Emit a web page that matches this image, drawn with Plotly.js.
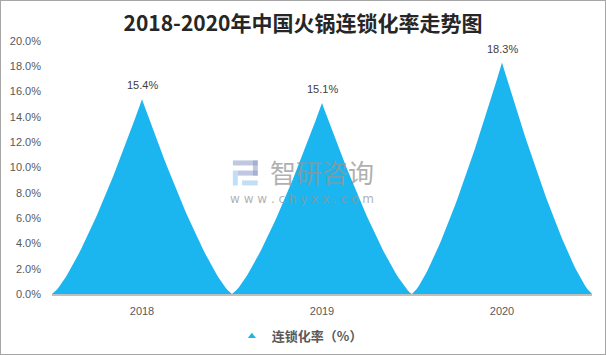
<!DOCTYPE html>
<html><head><meta charset="utf-8">
<script src="https://cdn.plot.ly/plotly-3.0.1.min.js"></script>
<style>html,body{margin:0;padding:0;background:#fff}#c{width:606px;height:355px;box-sizing:border-box;border:1px solid #A6A6A6}</style>
</head><body><div id="c"></div>
<script>
const categories = ['2018', '2019', '2020'];
const values = [15.4, 15.1, 18.3];
const seriesName = '连锁化率（%）';
const yTicks = [0, 2, 4, 6, 8, 10, 12, 14, 16, 18, 20];

const fillColor = '#1BB5EF';
const traces = [];
const N = 40, P = 1.3;
values.forEach((v, i) => {
  const xs = [], ys = [];
  for (let k = 0; k <= N; k++) { const t = k / N; xs.push(i - 0.5 + 0.5 * t); ys.push(v * Math.pow(t, P)); }
  for (let k = N - 1; k >= 0; k--) { const t = k / N; xs.push(i + 0.5 - 0.5 * t); ys.push(v * Math.pow(t, P)); }
  traces.push({x: xs, y: ys, type: 'scatter', mode: 'lines', fill: 'toself', fillcolor: fillColor,
    line: {width: 0, color: fillColor}, hoverinfo: 'skip', showlegend: false});
});
traces.push({x: [null], y: [null], type: 'scatter', mode: 'markers', name: seriesName,
  marker: {symbol: 'triangle-up', size: 7, color: fillColor}, showlegend: true});

const annotations = values.map((v, i) => ({x: i, y: v, xref: 'x', yref: 'y', text: v.toFixed(1) + '%',
  showarrow: false, yanchor: 'bottom', yshift: 6, font: {family: 'Liberation Sans, Arial', size: 11, color: '#404040'}}));
annotations.push({xref: 'paper', yref: 'paper', x: 0.598, xanchor: 'right', y: 0.409, yanchor: 'bottom', borderpad: 0,
  text: '智研咨询', showarrow: false, font: {family: 'Noto Sans CJK SC', size: 26, color: 'rgba(150,150,150,0.75)'}});
annotations.push({xref: 'paper', yref: 'paper', x: 0.598, xanchor: 'right', y: 0.409, yanchor: 'top', borderpad: 0,
  text: 'w w w . c h y x x . c o m', showarrow: false, font: {family: 'DejaVu Sans', size: 12, color: 'rgba(150,150,150,0.75)'}});

const wm = 'rgba(140,155,200,0.55)', wm2 = 'rgba(130,190,235,0.5)';
const rect = (x0, x1, y0, y1, c) => ({type: 'rect', xref: 'paper', yref: 'paper', x0, x1, y0, y1, line: {width: 0}, fillcolor: c});

const layout = {
  width: 604, height: 353,
  margin: {l: 51, r: 13, t: 40, b: 60},
  paper_bgcolor: '#fff', plot_bgcolor: '#fff',
  title: {text: '<b>2018-2020年中国火锅连锁化率走势图</b>', x: 0.5, xanchor: 'center', y: 0.935, yanchor: 'middle',
    font: {family: 'Noto Sans CJK SC', size: 21, color: '#262626'}},
  xaxis: {range: [-0.5, 2.5], tickvals: [0, 1, 2], ticktext: categories, showgrid: false, zeroline: false,
    showline: true, linecolor: '#BFBFBF', linewidth: 1.5, ticks: '', ticklen: 0, ticklabelstandoff: 6,
    tickfont: {family: 'Liberation Sans, Arial', size: 11, color: '#595959'}, fixedrange: true},
  yaxis: {range: [0, 20], tickvals: yTicks, ticktext: yTicks.map(t => t.toFixed(1) + '%'), showgrid: false,
    zeroline: false, showline: false, ticks: '', ticklabelstandoff: 10,
    tickfont: {family: 'Liberation Sans, Arial', size: 11, color: '#595959'}},
  showlegend: true,
  legend: {orientation: 'h', x: 0.459, xanchor: 'center', yref: 'container', y: 0.05, yanchor: 'middle',
    itemwidth: 30, font: {family: 'Noto Sans CJK SC', size: 13, color: '#595959', weight: 'bold'}},
  annotations: annotations,
  shapes: [
    rect(0.335, 0.381, 0.508, 0.528, wm),
    rect(0.372, 0.381, 0.468, 0.528, wm),
    rect(0.344, 0.381, 0.468, 0.488, wm),
    rect(0.335, 0.344, 0.429, 0.488, wm2),
    rect(0.352, 0.381, 0.429, 0.449, wm2)
  ]
};
Plotly.newPlot('c', traces, layout, {displayModeBar: false, staticPlot: true});
</script></body></html>
